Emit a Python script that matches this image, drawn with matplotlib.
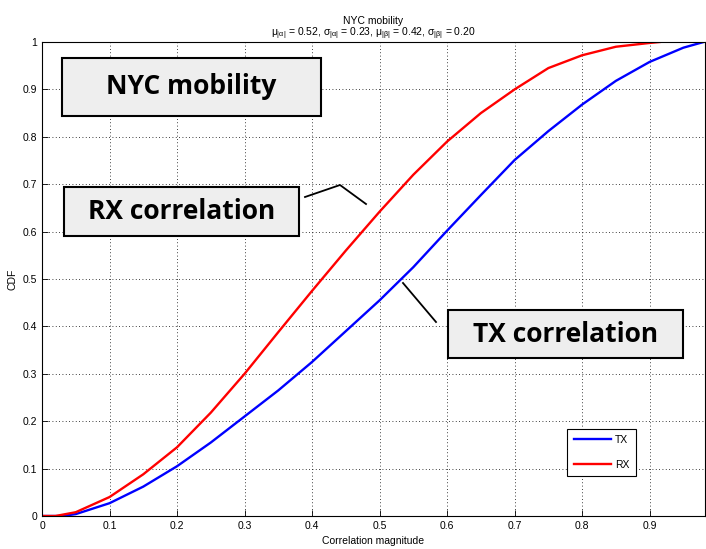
import matplotlib.pyplot as plt
from matplotlib.lines import Line2D

# CDF readings from the picture
x_tx = [0.0, 0.03, 0.05, 0.1, 0.15, 0.2, 0.25, 0.3, 0.35, 0.4, 0.45, 0.5, 0.55,
        0.6, 0.65, 0.7, 0.75, 0.8, 0.85, 0.9, 0.95, 0.98]
cdf_tx = [0.0, 0.0, 0.004, 0.027, 0.062, 0.105, 0.155, 0.21, 0.265, 0.325, 0.39,
          0.455, 0.525, 0.602, 0.677, 0.751, 0.812, 0.868, 0.918, 0.958, 0.988, 1.0]

x_rx = [0.0, 0.02, 0.05, 0.1, 0.15, 0.2, 0.25, 0.3, 0.35, 0.4, 0.45, 0.5, 0.55,
        0.6, 0.65, 0.7, 0.75, 0.8, 0.85, 0.9, 0.915]
cdf_rx = [0.0, 0.0, 0.008, 0.04, 0.088, 0.145, 0.218, 0.30, 0.388, 0.475, 0.56,
          0.642, 0.72, 0.79, 0.85, 0.90, 0.945, 0.972, 0.99, 0.998, 1.0]

x_ticks = [0, 0.1, 0.2, 0.3, 0.4, 0.5, 0.6, 0.7, 0.8, 0.9]
y_ticks = [0, 0.1, 0.2, 0.3, 0.4, 0.5, 0.6, 0.7, 0.8, 0.9, 1]

plt.rcParams['font.family'] = ['Liberation Sans', 'DejaVu Sans']
plt.rcParams['mathtext.fontset'] = 'custom'
plt.rcParams['mathtext.rm'] = 'Liberation Sans'
plt.rcParams['mathtext.it'] = 'Liberation Sans'

fig = plt.figure(figsize=(7.06, 5.49), dpi=100)
W, H = 706, 549
ax = fig.add_axes([42 / W, 1 - 516 / H, (705 - 42) / W, (516 - 42) / H])

ax.plot(x_tx, cdf_tx, color='#0000ff', lw=1.7, label='TX')
ax.plot(x_rx, cdf_rx, color='#ff0000', lw=1.7, label='RX')

ax.set_xlim(0, 0.982)
ax.set_ylim(0, 1)
ax.set_xticks(x_ticks)
ax.set_yticks(y_ticks)
ax.set_xticklabels([f'{t:g}' for t in x_ticks])
ax.set_yticklabels([f'{t:g}' for t in y_ticks])
ax.tick_params(labelsize=7.5, direction='in', length=4, width=0.6)
ax.grid(True, linestyle=(0, (1, 3)), color='black', linewidth=0.6)
for s in ax.spines.values():
    s.set_linewidth(0.8)
ax.set_xlabel('Correlation magnitude', fontsize=7.5, labelpad=4)
ax.set_ylabel('CDF', fontsize=7.5, labelpad=4)
ax.set_title('NYC mobility\n'
             r'$\mu_{|\alpha|}$ = 0.52, $\sigma_{|\alpha|}$ = 0.23, '
             r'$\mu_{|\beta|}$ = 0.42, $\sigma_{|\beta|}$ = 0.20',
             fontsize=7.5, pad=3, linespacing=1.0)

leg = ax.legend(loc='lower right', bbox_to_anchor=(641 / W, 1 - 481 / H),
                bbox_transform=fig.transFigure, fontsize=7.5, fancybox=False,
                edgecolor='black', framealpha=1, handlelength=3.6,
                handletextpad=0.4, borderpad=0.6, labelspacing=1.4)
leg.get_frame().set_linewidth(0.8)


def box(x0, y0, x1, y1, text):
    fig.patches.append(plt.Rectangle((x0 / W, 1 - y1 / H), (x1 - x0) / W, (y1 - y0) / H,
                                     transform=fig.transFigure, facecolor='#eeeeee',
                                     edgecolor='black', linewidth=1.5, zorder=5))
    fig.text((x0 + x1) / 2 / W, 1 - (y0 + y1) / 2 / H, text, ha='center', va='center',
             fontsize=19, fontweight='bold', family=['Open Sans', 'DejaVu Sans'], zorder=6)


box(62, 58, 321, 116, 'NYC mobility')
box(64, 187, 299, 236, 'RX correlation')
box(448, 310, 683, 358, 'TX correlation')

for xs, ys in [([305, 340, 366], [197, 185, 204]), ([436, 403], [322, 283])]:
    fig.lines.append(Line2D([v / W for v in xs], [1 - v / H for v in ys],
                            transform=fig.transFigure, color='black', lw=1.3, zorder=6))

fig.savefig('out.png', dpi=100)
